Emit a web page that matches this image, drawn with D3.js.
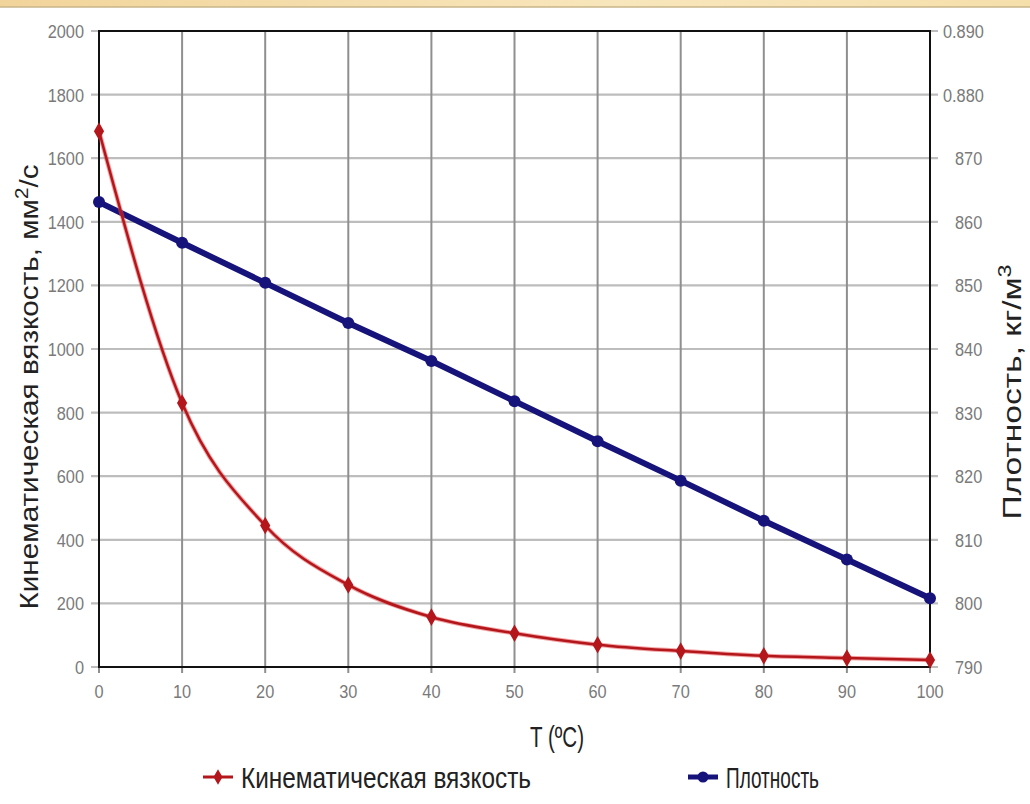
<!DOCTYPE html>
<html>
<head>
<meta charset="utf-8">
<script src="https://cdn.jsdelivr.net/npm/d3@7"></script>
<style>
  body { margin: 0; background: #fff; }
  svg { display: block; }
  .tick-label { font-family: "Liberation Sans", Arial, sans-serif; font-size: 19px; fill: #7a7a7a; }
  .title { font-family: "Liberation Sans", Arial, sans-serif; font-size: 26px; fill: #222; }
  .tall { font-family: "Liberation Sans", Arial, sans-serif; font-size: 29px; fill: #222; }
</style>
</head>
<body>
<svg id="chart"></svg>
<script>
// data
const temps = [0, 10, 20, 30, 40, 50, 60, 70, 80, 90, 100];
const viscosity = [1685, 830, 445, 258, 157, 106, 70, 50, 35, 28, 22];
const density = [863.1, 856.7, 850.4, 844.1, 838.1, 831.8, 825.5, 819.3, 813.0, 806.9, 800.8];
const leftTicks = [0, 200, 400, 600, 800, 1000, 1200, 1400, 1600, 1800, 2000];
const rightTicks = [790, 800, 810, 820, 830, 840, 850, 860, 870, 880, 890];
const rightTickLabels = ["790", "800", "810", "820", "830", "840", "850", "860", "870", "0.880", "0.890"];

const width = 1030, height = 804;
const plot = { left: 99, right: 930, top: 31, bottom: 667 };
const squeeze = 0.86; // reference labels use a narrow face

const svg = d3.select("#chart")
    .attr("width", width)
    .attr("height", height);

// top banner strip
const grad = svg.append("defs").append("linearGradient")
    .attr("id", "banner").attr("x1", 0).attr("x2", 1);
grad.append("stop").attr("offset", "0%").attr("stop-color", "#f1d49a");
grad.append("stop").attr("offset", "60%").attr("stop-color", "#f8e6bc");
grad.append("stop").attr("offset", "100%").attr("stop-color", "#f5dfab");
svg.append("rect").attr("x", 0).attr("y", 0).attr("width", width).attr("height", 7)
    .attr("fill", "url(#banner)");
svg.append("line").attr("x1", 0).attr("x2", width).attr("y1", 7).attr("y2", 7)
    .attr("stroke", "#c8b48a").attr("stroke-width", 1.5);

const x = d3.scaleLinear().domain([0, 100]).range([plot.left, plot.right]);
const yL = d3.scaleLinear().domain([0, 2000]).range([plot.bottom, plot.top]);
const yR = d3.scaleLinear().domain([790, 890]).range([plot.bottom, plot.top]);

// grid
const grid = svg.append("g");
grid.selectAll("line.h")
    .data(leftTicks)
    .join("line")
    .attr("class", "h")
    .attr("x1", plot.left - 8).attr("x2", plot.right + 8)
    .attr("y1", d => yL(d)).attr("y2", d => yL(d))
    .attr("stroke", "#bdbdbd").attr("stroke-width", 2.2);
grid.selectAll("line.v")
    .data(temps)
    .join("line")
    .attr("class", "v")
    .attr("x1", d => x(d)).attr("x2", d => x(d))
    .attr("y1", plot.top).attr("y2", plot.bottom + 6)
    .attr("stroke", "#8f8f8f").attr("stroke-width", 2);

// frame
svg.append("rect")
    .attr("x", plot.left).attr("y", plot.top)
    .attr("width", plot.right - plot.left).attr("height", plot.bottom - plot.top)
    .attr("fill", "none").attr("stroke", "#111").attr("stroke-width", 2);

// tick labels
svg.append("g").selectAll("text")
    .data(leftTicks)
    .join("text")
    .attr("class", "tick-label")
    .attr("transform", d => `translate(84,${yL(d) + 7}) scale(${squeeze},1)`)
    .attr("text-anchor", "end")
    .text(d => d);

svg.append("g").selectAll("text")
    .data(rightTicks)
    .join("text")
    .attr("class", "tick-label")
    .attr("transform", d => `translate(${d >= 880 ? 943 : 955},${yR(d) + 7}) scale(${squeeze},1)`)
    .text((d, i) => rightTickLabels[i]);

svg.append("g").selectAll("text")
    .data(temps)
    .join("text")
    .attr("class", "tick-label")
    .attr("transform", d => `translate(${x(d)},698) scale(${squeeze},1)`)
    .attr("text-anchor", "middle")
    .text(d => d);

// axis titles
const lt = svg.append("text")
    .attr("class", "title")
    .attr("transform", `translate(38,387) rotate(-90)`)
    .attr("text-anchor", "middle")
    .attr("textLength", 445)
    .attr("lengthAdjust", "spacingAndGlyphs");
lt.append("tspan").text("Кинематическая вязкость, мм");
lt.append("tspan").attr("dy", -10).attr("font-size", 18).text("2");
lt.append("tspan").attr("dy", 10).text("/с");

const rt = svg.append("text")
    .attr("class", "title")
    .attr("transform", `translate(1021,392) rotate(-90)`)
    .attr("text-anchor", "middle")
    .attr("textLength", 255)
    .attr("lengthAdjust", "spacingAndGlyphs");
rt.append("tspan").text("Плотность,  кг/м");
rt.append("tspan").attr("dy", -10).attr("font-size", 18).text("3");

svg.append("text")
    .attr("class", "tall")
    .attr("x", 557).attr("y", 747)
    .attr("text-anchor", "middle")
    .attr("textLength", 54)
    .attr("lengthAdjust", "spacingAndGlyphs")
    .text("T (ºC)");

// series
const red = "#b3171c", blue = "#16137a";
const viscData = temps.map((t, i) => ({ t, v: viscosity[i] }));
const densData = temps.map((t, i) => ({ t, v: density[i] }));

svg.append("path")
    .datum(densData)
    .attr("fill", "none")
    .attr("stroke", blue)
    .attr("stroke-width", 6)
    .attr("d", d3.line().x(d => x(d.t)).y(d => yR(d.v)));

const viscLine = d3.line().curve(d3.curveMonotoneX).x(d => x(d.t)).y(d => yL(d.v));
svg.append("path")
    .datum(viscData)
    .attr("fill", "none")
    .attr("stroke", "#e8484a")
    .attr("stroke-opacity", 0.5)
    .attr("stroke-width", 4.5)
    .attr("d", viscLine);
svg.append("path")
    .datum(viscData)
    .attr("fill", "none")
    .attr("stroke", red)
    .attr("stroke-width", 2.5)
    .attr("d", viscLine);

const diamond = d3.symbol().type(d3.symbolDiamond).size(90);

svg.append("g").selectAll("circle")
    .data(densData)
    .join("circle")
    .attr("cx", d => x(d.t)).attr("cy", d => yR(d.v))
    .attr("r", 6).attr("fill", blue);

svg.append("g").selectAll("path")
    .data(viscData)
    .join("path")
    .attr("transform", d => `translate(${x(d.t)},${yL(d.v)})`)
    .attr("d", diamond)
    .attr("fill", red);

// legend
const legend = svg.append("g");
const items = [
    { label: "Кинематическая вязкость", color: red, x: 203, sym: "diamond", len: 290 },
    { label: "Плотность", color: blue, x: 688, sym: "circle", len: 93 }
];
items.forEach(it => {
    const g = legend.append("g").attr("transform", `translate(${it.x},777)`);
    g.append("line").attr("x1", 0).attr("x2", 30).attr("y1", 0).attr("y2", 0)
        .attr("stroke", it.color).attr("stroke-width", it.sym === "circle" ? 5 : 3);
    if (it.sym === "circle") {
        g.append("circle").attr("cx", 15).attr("cy", 0).attr("r", 5.5).attr("fill", it.color);
    } else {
        g.append("path").attr("transform", "translate(15,0)")
            .attr("d", d3.symbol().type(d3.symbolDiamond).size(70)).attr("fill", it.color);
    }
    g.append("text").attr("class", "tall")
        .attr("x", 38).attr("y", 11)
        .attr("textLength", it.len)
        .attr("lengthAdjust", "spacingAndGlyphs")
        .text(it.label);
});
</script>
</body>
</html>
